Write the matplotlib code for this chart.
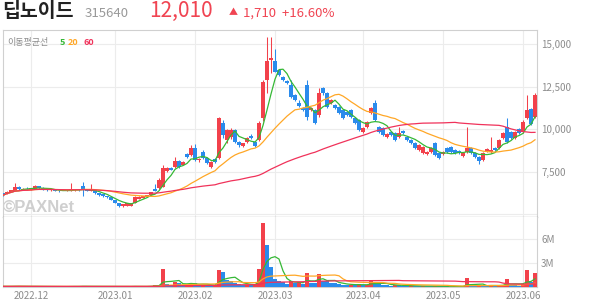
import numpy as np
import pandas as pd
import matplotlib
matplotlib.use("Agg")
import matplotlib.pyplot as plt
from matplotlib.ticker import FuncFormatter

plt.rcParams['font.family'] = ['Noto Sans CJK KR', 'DejaVu Sans']

# daily candles, 2022-11-22 .. 2023-06-07 (trading days)
opens = [6230, 6240, 6300, 6380, 6560, 6420, 6500, 6420, 6500, 6640,
         6540, 6460, 6400, 6430, 6370, 6360, 6350, 6380, 6400, 6460,
         6650, 6420, 6380, 6400, 6230, 6160, 6060, 6000, 5820, 5650,
         5450, 5500, 5500, 5650, 5880, 5940, 6000, 6120, 6470, 6530,
         6590, 7530, 7700, 7760, 8120, 7880, 8530, 8470, 8880, 8180,
         8650, 8290, 7770, 8240, 8290, 10350, 9350, 9530, 9940, 9240,
         9000, 9240, 9590, 9240, 9350, 10650, 12880, 14060, 14000, 13470,
         13060, 12820, 12590, 12000, 11530, 11240, 12590, 11120, 11120, 10820,
         12410, 12120, 11530, 11410, 11290, 11120, 11000, 11120, 10650, 10530,
         9820, 10120, 10940, 11530, 10120, 10060, 9530, 9820, 9770, 9530,
         9880, 9530, 9350, 9180, 8770, 8590, 8530, 8650, 9180, 8590,
         8530, 8880, 8940, 8770, 8700, 8410, 8650, 8880, 8590, 8350,
         8180, 8710, 8650, 8880, 8880, 9470, 10120, 9820, 9470, 10000,
         9820, 10650, 11180, 10700]
highs = [6260, 6330, 6420, 6820, 6620, 6520, 6560, 6540, 6680, 6660,
         6560, 6480, 6450, 6440, 6400, 6380, 6420, 6800, 6480, 6480,
         6880, 6450, 6780, 6420, 6250, 6180, 6080, 6020, 5840, 5660,
         5600, 5660, 5650, 6060, 6040, 6080, 6140, 6320, 6760, 7120,
         7880, 7750, 7760, 8350, 8180, 8120, 8600, 9060, 9120, 8300,
         8760, 8350, 8100, 8300, 10700, 10530, 10000, 10050, 10000, 9300,
         9200, 9530, 9700, 9300, 10470, 12880, 15410, 15410, 14700, 13500,
         13120, 12880, 12880, 12060, 11700, 11300, 12880, 11300, 11180, 12410,
         12470, 12200, 11760, 11470, 11350, 11180, 11060, 11180, 10710, 10590,
         10120, 10470, 11290, 11710, 10180, 10120, 9760, 9880, 9820, 10120,
         9940, 9590, 9410, 9240, 9120, 8990, 8700, 8940, 9240, 8650,
         8700, 8940, 9000, 8820, 8770, 8650, 10120, 8940, 8650, 8410,
         8650, 8880, 9530, 8940, 9410, 9820, 10650, 9880, 9880, 10060,
         10530, 12000, 11240, 12140]
lows = [6060, 6200, 6280, 6350, 6420, 6400, 6420, 6400, 6480, 6500,
        6420, 6380, 6360, 6340, 6320, 6330, 6330, 6360, 6380, 6380,
        6060, 6350, 6360, 6200, 6060, 6020, 5960, 5800, 5620, 5400,
        5420, 5480, 5480, 5620, 5860, 5920, 5990, 6100, 6330, 6450,
        6560, 7500, 7560, 7700, 7700, 7860, 8300, 8440, 8100, 8050,
        8250, 7950, 7700, 8000, 8250, 9500, 9200, 9400, 9150, 8950,
        8950, 9200, 9400, 8950, 9300, 10500, 12120, 13290, 13350, 13100,
        12820, 12650, 11820, 11650, 11300, 11060, 10530, 11060, 10300, 10700,
        12000, 11240, 11470, 11180, 10880, 10600, 10760, 10650, 10300, 9880,
        9760, 10060, 10880, 10470, 9760, 9590, 9470, 9590, 9300, 9470,
        9710, 9300, 9120, 8830, 8700, 8530, 8470, 8590, 8410, 8240,
        8470, 8590, 8590, 8530, 8530, 8350, 8590, 8530, 8290, 7940,
        8120, 8650, 8590, 8710, 8820, 9410, 9180, 9410, 9410, 9710,
        9760, 10590, 10240, 10650]
closes = [6100, 6320, 6400, 6560, 6460, 6500, 6440, 6520, 6640, 6540,
          6450, 6400, 6440, 6360, 6350, 6340, 6400, 6460, 6460, 6400,
          6480, 6370, 6430, 6230, 6100, 6050, 5980, 5830, 5650, 5480,
          5590, 5640, 5620, 6000, 6010, 6060, 6120, 6290, 6350, 7000,
          7700, 7710, 7590, 8120, 7760, 8060, 8350, 8880, 8180, 8240,
          8290, 8000, 8060, 8060, 10650, 9650, 9940, 9940, 9240, 9060,
          9180, 9470, 9470, 9000, 10350, 12760, 14000, 14180, 13350, 13180,
          12880, 12700, 11880, 11700, 11350, 11120, 10710, 11240, 10350, 12120,
          12120, 11290, 11710, 11240, 10940, 10650, 10820, 10710, 10350, 9940,
          10060, 10410, 11240, 10530, 9820, 9650, 9710, 9650, 9350, 9770,
          9770, 9350, 9180, 8880, 9060, 8940, 8650, 8880, 8470, 8290,
          8650, 8650, 8650, 8590, 8590, 8590, 8880, 8590, 8350, 8120,
          8590, 8820, 8770, 8770, 9350, 9770, 9240, 9470, 9820, 9770,
          10410, 11120, 10300, 12010]
# volume in thousands of shares
volumes = [80, 70, 90, 120, 80, 60, 70, 80, 100, 70,
           60, 50, 60, 50, 50, 40, 60, 110, 70, 50,
           140, 60, 100, 70, 80, 60, 50, 70, 60, 90,
           70, 50, 40, 110, 60, 50, 60, 150, 300, 250,
           2250, 400, 300, 600, 500, 250, 300, 550, 450, 200,
           300, 250, 200, 220, 2100, 1900, 900, 700, 500, 350,
           250, 300, 250, 280, 2250, 8000, 5200, 2500, 1000, 800,
           600, 400, 800, 450, 650, 400, 1800, 500, 450, 1600,
           800, 700, 550, 450, 350, 300, 250, 300, 280, 320,
           220, 280, 800, 500, 400, 300, 200, 180, 250, 220,
           150, 120, 150, 140, 100, 120, 100, 90, 120, 100,
           80, 70, 60, 70, 60, 80, 1100, 200, 150, 200,
           180, 120, 300, 120, 200, 300, 1000, 250, 200, 180,
           400, 2100, 600, 1800]

month_labels = ['2022.12', '2023.01', '2023.02', '2023.03', '2023.04', '2023.05', '2023.06']
month_start = [7, 28, 48, 68, 90, 110, 130]
price_ticks = [7500, 10000, 12500, 15000]
vol_ticks = [3000, 6000]
ma_windows = [5, 20, 60]

RED = '#f2414b'
BLUE = '#2a8bec'
MA_COLORS = ['#36b836', '#ffa726', '#f0325a']
GRID = '#ececec'

W, H = 594, 304
fig = plt.figure(figsize=(W / 100, H / 100), dpi=100)


def fx(x):
    return x / W


def fy(y):
    return 1 - y / H


axp = fig.add_axes([fx(3), fy(217), fx(534), 187 / H])
axv = fig.add_axes([fx(3), fy(287), fx(534), 70 / H], sharex=axp)

o = np.array(opens)
h = np.array(highs)
l = np.array(lows)
c = np.array(closes)
v = np.array(volumes)
idx = np.arange(len(c))

up = c >= o
ccol = np.where(up, RED, BLUE)
body_lo = np.minimum(o, c)
body_h = np.maximum(np.abs(c - o), 25)

axp.vlines(idx, l, h, colors=ccol, linewidth=0.75, zorder=3)
axp.bar(idx, body_h, bottom=body_lo, width=0.8, color=ccol, linewidth=0, zorder=4)

cs = pd.Series(c)
vs = pd.Series(v)
for win, col in zip(ma_windows, MA_COLORS):
    axp.plot(idx, cs.rolling(win, min_periods=1).mean(), color=col, lw=0.9, zorder=5)

vcol = [RED] + [RED if v[k] >= v[k - 1] else BLUE for k in range(1, len(v))]
axv.bar(idx, v, width=0.8, color=vcol, linewidth=0, zorder=3)
for win, col in zip(ma_windows, MA_COLORS):
    axv.plot(idx, vs.rolling(win, min_periods=1).mean(), color=col, lw=0.9, zorder=4)

axp.set_xlim(0, len(c) - 0.5)
axp.set_ylim(4824, 15824)
axv.set_ylim(0, 8750)

for ax in (axp, axv):
    for m in month_start:
        ax.axvline(m, color=GRID, lw=0.8, zorder=0)
    ax.yaxis.tick_right()
    ax.tick_params(axis='both', length=0, labelsize=7, labelcolor='#8c8c8c', pad=3)
    for s in ('left', 'right', 'top', 'bottom'):
        ax.spines[s].set_color('#d0d0d0')
        ax.spines[s].set_linewidth(0.8)

axp.set_yticks(price_ticks)
axp.yaxis.set_major_formatter(FuncFormatter(lambda val, p: f'{int(val):,}'))
for t in price_ticks + [5000]:
    axp.axhline(t, color=GRID, lw=0.8, zorder=0)
axp.spines['bottom'].set_color('#333333')
axp.tick_params(axis='x', labelbottom=False)
axv.spines['top'].set_visible(False)

axv.set_yticks(vol_ticks)
axv.yaxis.set_major_formatter(FuncFormatter(lambda val, p: f'{int(val / 1000)}M'))
for t in vol_ticks:
    axv.axhline(t, color=GRID, lw=0.8, zorder=0)
axv.set_xticks(month_start)
axv.set_xticklabels(month_labels)

# header
fig.text(fx(2), fy(17), '딥노이드', fontsize=14, fontweight='bold', color='#222222', va='baseline')
fig.text(fx(85), fy(17), '315640', fontsize=9.5, color='#999999', va='baseline')
fig.text(fx(149), fy(17), '12,010', fontsize=15, color='#f04452', va='baseline')
fig.text(fx(229), fy(15), '▲', fontsize=6.5, color='#f04452', va='baseline')
fig.text(fx(243), fy(17), '1,710  +16.60%', fontsize=9.5, color='#f04452', va='baseline')

# legend
fig.text(fx(7), fy(45), '이동평균선', fontsize=6.5, color='#8c8c8c', va='baseline')
fig.text(fx(60), fy(45), '5', fontsize=6.5, color=MA_COLORS[0], fontweight='bold', va='baseline')
fig.text(fx(68), fy(45), '20', fontsize=6.5, color=MA_COLORS[1], fontweight='bold', va='baseline')
fig.text(fx(83), fy(45), '60', fontsize=6.5, color=MA_COLORS[2], fontweight='bold', va='baseline')

# watermark, under the candles and lines
axp.text(fx(3), fy(212), '©PAXNet', transform=fig.transFigure, fontsize=12, fontweight='bold',
         color='#cfcfcf', va='baseline', zorder=1, family=['Liberation Sans', 'DejaVu Sans'])

fig.savefig('out.png', dpi=100)
